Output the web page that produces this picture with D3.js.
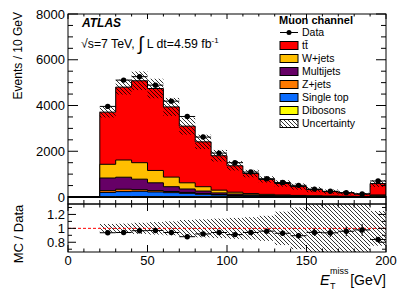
<!DOCTYPE html>
<html><head><meta charset="utf-8">
<script src="https://cdn.jsdelivr.net/npm/d3@7"></script>
<style>
body{margin:0;background:#fff;}
svg text{font-family:"Liberation Sans",Arial,Helvetica,sans-serif;}
</style></head>
<body><svg id="c" width="407" height="292"></svg>
<script>
// ---- data (bins of 10 GeV, lower edges) ----
const binLow   = [0,10,20,30,40,50,60,70,80,90,100,110,120,130,140,150,160,170,180,190];
const binWidth = 10;
const data     = [0,0,3960,5110,5260,4890,4190,3520,2620,1920,1500,1090,800,635,510,345,250,190,135,700];
const dataErr  = [0,0,63,71,72,70,65,59,51,44,39,33,28,25,23,19,16,14,12,26];
const ttbar    = [0,0,2280,3186,3581,3583,3069,2478,1960,1505,1155,875,653,500,386,270,192,149,107,498];
const wjets    = [0,0,600,752,720,540,420,270,190,120,80,55,45,35,28,23,18,15,11,40];
const multijets= [0,0,550,525,460,340,210,150,110,70,50,33,23,18,15,11,8,6,4,12];
const zjets    = [0,0,80,105,70,60,50,40,30,20,15,12,9,7,5,4,3,2,2,8];
const singletop= [0,0,185,215,230,202,175,147,110,82,59,45,34,27,19,15,11,9,7,24];
const dibosons = [0,0,15,20,20,18,15,13,10,8,6,5,4,3,3,2,2,1,1,6];
const relUnc   = [0,0,0.063,0.068,0.08,0.09,0.1,0.12,0.13,0.14,0.15,0.16,0.18,0.24,0.3,0.36,0.4,0.42,0.4,0.25];

const xTicks      = [0,50,100,150,200];
const yTicksMain  = [0,2000,4000,6000,8000];
const yTicksRatio = [0.8,1,1.2];
const yTickLabelsRatio = ["0.8","1","1.2"];

// stack order bottom -> top
const stack = [
  {name:"Dibosons",  vals:dibosons,  color:"#ffff00"},
  {name:"Single top",vals:singletop, color:"#0a6cff"},
  {name:"Z+jets",    vals:zjets,     color:"#ff7a00"},
  {name:"Multijets", vals:multijets, color:"#660066"},
  {name:"W+jets",    vals:wjets,     color:"#ffbf00"},
  {name:"tt\u0304",  vals:ttbar,     color:"#ff0000"}
];
const legendOrder = ["tt\u0304","W+jets","Multijets","Z+jets","Single top","Dibosons"];

// ---- layout ----
const L=68, R=386, mainTop=14, mainBot=204, ratTop=204, ratBot=252;
const x  = d3.scaleLinear().domain([0,200]).range([L,R]);
const y  = d3.scaleLinear().domain([0,8000]).range([197,mainTop]);
const yr = d3.scaleLinear().domain([0.66,1.35]).range([ratBot,ratTop]);

const svg = d3.select("#c");
svg.append("rect").attr("width",407).attr("height",292).attr("fill","#fff");
const defs = svg.append("defs");
const pat = defs.append("pattern").attr("id","hatch").attr("patternUnits","userSpaceOnUse")
  .attr("width",4).attr("height",4);
pat.append("path").attr("d","M0,0L4,4M-1,3L1,5M3,-1L5,1").attr("stroke","#000").attr("stroke-width",0.8);
defs.append("clipPath").attr("id","cm").append("rect").attr("x",L).attr("y",mainTop).attr("width",R-L).attr("height",mainBot-mainTop);
defs.append("clipPath").attr("id","cr").append("rect").attr("x",L).attr("y",ratTop).attr("width",R-L).attr("height",ratBot-ratTop);

// cumulative
const n = binLow.length;
const cum = [];
let running = new Array(n).fill(0);
stack.forEach(s=>{ running = running.map((v,i)=>v+s.vals[i]); cum.push(running.slice()); });
const total = cum[cum.length-1];

function stepPath(vals, ys){
  let p = `M${x(binLow[0])},${ys(0)}`;
  for(let i=0;i<n;i++){
    p += `L${x(binLow[i])},${ys(vals[i])}L${x(binLow[i]+binWidth)},${ys(vals[i])}`;
  }
  p += `L${x(binLow[n-1]+binWidth)},${ys(0)}Z`;
  return p;
}

const gm = svg.append("g").attr("clip-path","url(#cm)");
for(let k=stack.length-1;k>=0;k--){
  gm.append("path").attr("d",stepPath(cum[k],y)).attr("fill",stack[k].color)
    .attr("stroke","#000").attr("stroke-width",1);
}
// uncertainty band main
binLow.forEach((b,i)=>{
  if(total[i]<=0) return;
  const u = total[i]*relUnc[i];
  gm.append("rect").attr("x",x(b)).attr("width",x(b+binWidth)-x(b))
    .attr("y",y(total[i]+u)).attr("height",y(total[i]-u)-y(total[i]+u))
    .attr("fill","url(#hatch)");
});
// data main
const gd = svg.append("g").attr("clip-path","url(#cm)");
binLow.forEach((b,i)=>{
  if(data[i]<=0) return;
  const cx = x(b+binWidth/2), cy=y(data[i]);
  gd.append("line").attr("x1",x(b)).attr("x2",x(b+binWidth)).attr("y1",cy).attr("y2",cy).attr("stroke","#000").attr("stroke-width",1);
  gd.append("line").attr("x1",cx).attr("x2",cx).attr("y1",y(data[i]-dataErr[i])).attr("y2",y(data[i]+dataErr[i])).attr("stroke","#000").attr("stroke-width",1);
  gd.append("circle").attr("cx",cx).attr("cy",cy).attr("r",2.7).attr("fill","#000");
});

// ratio panel
const gr = svg.append("g").attr("clip-path","url(#cr)");
binLow.forEach((b,i)=>{
  if(total[i]<=0) return;
  gr.append("rect").attr("x",x(b)).attr("width",x(b+binWidth)-x(b))
    .attr("y",yr(1+relUnc[i])).attr("height",yr(1-relUnc[i])-yr(1+relUnc[i]))
    .attr("fill","url(#hatch)");
});
gr.append("line").attr("x1",x(0)).attr("x2",x(200)).attr("y1",yr(1)).attr("y2",yr(1))
  .attr("stroke","#ff0000").attr("stroke-width",1).attr("stroke-dasharray","3,2");
binLow.forEach((b,i)=>{
  if(data[i]<=0) return;
  const r = total[i]/data[i], re = r*dataErr[i]/data[i];
  const cx = x(b+binWidth/2), cy=yr(r);
  gr.append("line").attr("x1",x(b)).attr("x2",x(b+binWidth)).attr("y1",cy).attr("y2",cy).attr("stroke","#000").attr("stroke-width",1);
  gr.append("line").attr("x1",cx).attr("x2",cx).attr("y1",yr(r-re)).attr("y2",yr(r+re)).attr("stroke","#000").attr("stroke-width",1);
  gr.append("circle").attr("cx",cx).attr("cy",cy).attr("r",2.7).attr("fill","#000");
});

// frames
svg.append("rect").attr("x",L).attr("y",mainTop).attr("width",R-L).attr("height",mainBot-mainTop).attr("fill","none").attr("stroke","#000").attr("stroke-width",1);
svg.append("rect").attr("x",L).attr("y",ratTop).attr("width",R-L).attr("height",ratBot-ratTop).attr("fill","none").attr("stroke","#000").attr("stroke-width",1);

// ticks
const tk = svg.append("g").attr("stroke","#000").attr("stroke-width",1);
d3.range(0,201,10).forEach(v=>{
  const major = v%50===0;
  const X = x(v);
  const lm = major?8:4, lt = major?5:2.5, lr = major?7:3.5;
  tk.append("line").attr("x1",X).attr("x2",X).attr("y1",mainBot).attr("y2",mainBot-lm);
  tk.append("line").attr("x1",X).attr("x2",X).attr("y1",mainTop).attr("y2",mainTop+lt);
  tk.append("line").attr("x1",X).attr("x2",X).attr("y1",ratBot).attr("y2",ratBot-lr);
  tk.append("line").attr("x1",X).attr("x2",X).attr("y1",ratTop).attr("y2",ratTop+lr);
});
d3.range(0,8001,500).forEach(v=>{
  const major = v%2000===0;
  const Y = y(v), len = major?10:5;
  tk.append("line").attr("x1",L).attr("x2",L+len).attr("y1",Y).attr("y2",Y);
  tk.append("line").attr("x1",R).attr("x2",R-len).attr("y1",Y).attr("y2",Y);
});
d3.range(0.7,1.31,0.1).forEach(v=>{
  const major = Math.abs(v*10-Math.round(v*5)*2)<0.01;
  const Y = yr(v), len = major?8:4;
  tk.append("line").attr("x1",L).attr("x2",L+len).attr("y1",Y).attr("y2",Y);
  tk.append("line").attr("x1",R).attr("x2",R-len).attr("y1",Y).attr("y2",Y);
});

// tick labels
const fs=13;
yTicksMain.forEach(v=>{
  svg.append("text").attr("x",65).attr("y",y(v)+4.6).attr("text-anchor","end").attr("font-size",fs).text(v);
});
yTicksRatio.forEach((v,i)=>{
  svg.append("text").attr("x",65).attr("y",yr(v)+4.6).attr("text-anchor","end").attr("font-size",fs).text(yTickLabelsRatio[i]);
});
xTicks.forEach(v=>{
  svg.append("text").attr("x",x(v)).attr("y",265).attr("text-anchor","middle").attr("font-size",fs).text(v);
});

// axis titles
svg.append("text").attr("transform","translate(22,12) rotate(-90)").attr("text-anchor","end").attr("font-size",12).text("Events / 10 GeV");
svg.append("text").attr("transform","translate(23,234) rotate(-90)").attr("text-anchor","middle").attr("font-size",13).text("MC / Data");
svg.append("text").attr("x",320).attr("y",285).attr("font-size",14.5).attr("font-style","italic").text("E");
svg.append("text").attr("x",330).attr("y",289).attr("font-size",9).text("T");
svg.append("text").attr("x",330).attr("y",274).attr("font-size",9).text("miss");
svg.append("text").attr("x",386).attr("y",285).attr("text-anchor","end").attr("font-size",14).text("[GeV]");

// ATLAS labels
svg.append("text").attr("x",82).attr("y",27).attr("font-size",12).attr("font-weight","bold").attr("font-style","italic").text("ATLAS");
const lum = svg.append("text").attr("x",81).attr("y",48).attr("font-size",12.3);
lum.append("tspan").text("\u221As=7 TeV, ");
lum.append("tspan").attr("font-size",19).attr("dy",2).text("\u222B");
lum.append("tspan").attr("dy",-2).text(" L dt=4.59 fb");
lum.append("tspan").attr("font-size",8).attr("dy",-5).text("-1");

// legend
const lx=280, ly0=19.5, step=13;
svg.append("text").attr("x",279).attr("y",ly0+4).attr("font-size",11).attr("font-weight","bold").text("Muon channel");
let ly = ly0+step;
svg.append("line").attr("x1",lx).attr("x2",lx+18).attr("y1",ly).attr("y2",ly).attr("stroke","#000");
svg.append("circle").attr("cx",lx+9).attr("cy",ly).attr("r",2.5).attr("fill","#000");
svg.append("text").attr("x",302).attr("y",ly+3.7).attr("font-size",10.5).text("Data");
legendOrder.forEach((nm,i)=>{
  const s = stack.find(d=>d.name===nm);
  const yy = ly0+step*(i+2);
  svg.append("rect").attr("x",lx).attr("y",yy-4).attr("width",18).attr("height",8).attr("fill",s.color).attr("stroke","#000").attr("stroke-width",1);
  svg.append("text").attr("x",302).attr("y",yy+3.7).attr("font-size",10.5).text(nm);
});
const yu = ly0+step*8;
svg.append("rect").attr("x",lx).attr("y",yu-4).attr("width",18).attr("height",8).attr("fill","url(#hatch)").attr("stroke","#000").attr("stroke-width",1);
svg.append("text").attr("x",302).attr("y",yu+3.7).attr("font-size",10.5).text("Uncertainty");
</script></body></html>
